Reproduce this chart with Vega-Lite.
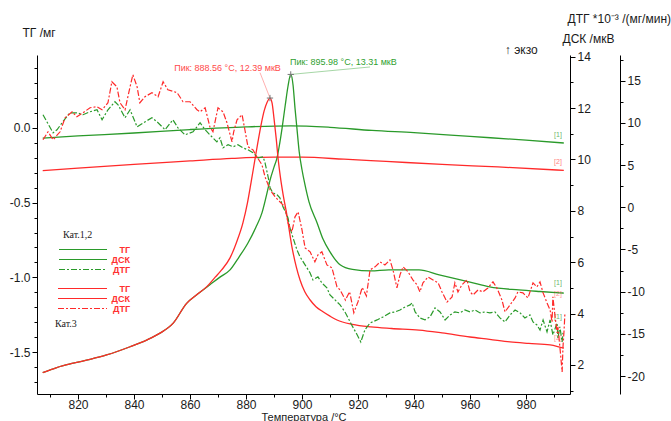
{
 "$schema": "https://vega.github.io/schema/vega-lite/v6.json",
 "width": 533, "height": 339,
 "autosize": "none",
 "padding": {"left": 37, "top": 55, "right": 101, "bottom": 27},
 "config": {
  "view": {"stroke": null},
  "font": "Liberation Sans",
  "axis": {"grid": false, "domainColor": "#000", "tickColor": "#000", "labelColor": "#1a1a1a", "titleColor": "#1a1a1a", "labelFont": "Liberation Sans", "titleFont": "Liberation Sans", "labelFontSize": 12, "titleFontSize": 12, "titleFontWeight": "normal", "labelPadding": 2, "labelOverlap": false}
 },
 "datasets": {
  "tg": [
   {"T":807.4,"v":-0.069,"s":"g","k":"ТГ"},{"T":820,"v":-0.055,"s":"g","k":"ТГ"},{"T":840,"v":-0.035,"s":"g","k":"ТГ"},{"T":860,"v":-0.012,"s":"g","k":"ТГ"},{"T":880,"v":0.006,"s":"g","k":"ТГ"},{"T":896,"v":0.013,"s":"g","k":"ТГ"},{"T":910,"v":0.003,"s":"g","k":"ТГ"},{"T":925,"v":-0.018,"s":"g","k":"ТГ"},{"T":940,"v":-0.033,"s":"g","k":"ТГ"},{"T":960,"v":-0.058,"s":"g","k":"ТГ"},{"T":980,"v":-0.083,"s":"g","k":"ТГ"},{"T":993.5,"v":-0.102,"s":"g","k":"ТГ"},
   {"T":807.4,"v":-0.287,"s":"r","k3":"ТГ 3"},{"T":820,"v":-0.27,"s":"r","k3":"ТГ 3"},{"T":840,"v":-0.245,"s":"r","k3":"ТГ 3"},{"T":860,"v":-0.222,"s":"r","k3":"ТГ 3"},{"T":875,"v":-0.205,"s":"r","k3":"ТГ 3"},{"T":890,"v":-0.196,"s":"r","k3":"ТГ 3"},{"T":900,"v":-0.197,"s":"r","k3":"ТГ 3"},{"T":915,"v":-0.21,"s":"r","k3":"ТГ 3"},{"T":930,"v":-0.225,"s":"r","k3":"ТГ 3"},{"T":950,"v":-0.245,"s":"r","k3":"ТГ 3"},{"T":970,"v":-0.262,"s":"r","k3":"ТГ 3"},{"T":993.5,"v":-0.285,"s":"r","k3":"ТГ 3"}
  ],
  "tglab": [
   {"T":991.4,"v":-0.05,"lab":"[1]","s":"g"},
   {"T":991.4,"v":-0.228,"lab":"[2]","s":"r"}
  ],
  "dsclab": [
   {"T":991.4,"v":5.2,"lab":"[1]","s":"g"},
   {"T":991.4,"v":4.75,"lab":"[2]","s":"r"},
   {"T":991.4,"v":3.85,"lab":"[1]","s":"g"},
   {"T":991.4,"v":3.05,"lab":"[2]","s":"r"}
  ],
  "dsc": [
   {"T":807.4,"v":1.70,"s":"g","k":"ДСК"},{"T":812.4,"v":1.90,"s":"g","k":"ДСК"},{"T":818.3,"v":2.07,"s":"g","k":"ДСК"},{"T":824.3,"v":2.22,"s":"g","k":"ДСК"},{"T":830.2,"v":2.39,"s":"g","k":"ДСК"},{"T":838.6,"v":2.71,"s":"g","k":"ДСК"},{"T":844.5,"v":2.97,"s":"g","k":"ДСК"},{"T":849.3,"v":3.24,"s":"g","k":"ДСК"},{"T":854,"v":3.63,"s":"g","k":"ДСК"},{"T":858.8,"v":4.40,"s":"g","k":"ДСК"},{"T":862.4,"v":4.73,"s":"g","k":"ДСК"},{"T":867.1,"v":5.12,"s":"g","k":"ДСК"},{"T":870.7,"v":5.42,"s":"g","k":"ДСК"},{"T":874.3,"v":5.70,"s":"g","k":"ДСК"},{"T":877.5,"v":6.2,"s":"g","k":"ДСК"},{"T":880.7,"v":6.75,"s":"g","k":"ДСК"},{"T":883.5,"v":7.35,"s":"g","k":"ДСК"},{"T":885.7,"v":7.92,"s":"g","k":"ДСК"},{"T":887.3,"v":8.6,"s":"g","k":"ДСК"},{"T":888.6,"v":9.2,"s":"g","k":"ДСК"},{"T":890,"v":9.7,"s":"g","k":"ДСК"},{"T":891.1,"v":10.07,"s":"g","k":"ДСК"},{"T":892,"v":10.6,"s":"g","k":"ДСК"},{"T":892.9,"v":11.23,"s":"g","k":"ДСК"},{"T":894,"v":12.1,"s":"g","k":"ДСК"},{"T":895,"v":12.85,"s":"g","k":"ДСК"},{"T":895.98,"v":13.31,"s":"g","k":"ДСК"},{"T":896.8,"v":12.9,"s":"g","k":"ДСК"},{"T":897.5,"v":12.0,"s":"g","k":"ДСК"},{"T":898.2,"v":11.2,"s":"g","k":"ДСК"},{"T":899,"v":10.3,"s":"g","k":"ДСК"},{"T":900,"v":9.6,"s":"g","k":"ДСК"},{"T":901,"v":9.05,"s":"g","k":"ДСК"},{"T":902.5,"v":8.35,"s":"g","k":"ДСК"},{"T":905.4,"v":7.53,"s":"g","k":"ДСК"},{"T":907.5,"v":6.9,"s":"g","k":"ДСК"},{"T":910,"v":6.40,"s":"g","k":"ДСК"},{"T":913.6,"v":5.9,"s":"g","k":"ДСК"},{"T":918,"v":5.72,"s":"g","k":"ДСК"},{"T":924.6,"v":5.66,"s":"g","k":"ДСК"},{"T":931,"v":5.70,"s":"g","k":"ДСК"},{"T":941.8,"v":5.70,"s":"g","k":"ДСК"},{"T":949,"v":5.51,"s":"g","k":"ДСК"},{"T":960,"v":5.23,"s":"g","k":"ДСК"},{"T":967,"v":5.04,"s":"g","k":"ДСК"},{"T":977.5,"v":4.92,"s":"g","k":"ДСК"},{"T":985,"v":4.86,"s":"g","k":"ДСК"},{"T":992,"v":4.81,"s":"g","k":"ДСК"},{"T":993.5,"v":4.80,"s":"g","k":"ДСК"},
   {"T":807.4,"v":1.70,"s":"r","k3":"ДСК 3"},{"T":812.4,"v":1.90,"s":"r","k3":"ДСК 3"},{"T":818.3,"v":2.07,"s":"r","k3":"ДСК 3"},{"T":824.3,"v":2.22,"s":"r","k3":"ДСК 3"},{"T":830.2,"v":2.39,"s":"r","k3":"ДСК 3"},{"T":838.6,"v":2.71,"s":"r","k3":"ДСК 3"},{"T":844.5,"v":2.97,"s":"r","k3":"ДСК 3"},{"T":849.3,"v":3.24,"s":"r","k3":"ДСК 3"},{"T":854,"v":3.63,"s":"r","k3":"ДСК 3"},{"T":858.8,"v":4.40,"s":"r","k3":"ДСК 3"},{"T":862.4,"v":4.73,"s":"r","k3":"ДСК 3"},{"T":866,"v":5.05,"s":"r","k3":"ДСК 3"},{"T":869,"v":5.42,"s":"r","k3":"ДСК 3"},{"T":871.3,"v":5.70,"s":"r","k3":"ДСК 3"},{"T":874.3,"v":6.17,"s":"r","k3":"ДСК 3"},{"T":876.7,"v":6.8,"s":"r","k3":"ДСК 3"},{"T":878.9,"v":7.53,"s":"r","k3":"ДСК 3"},{"T":880.5,"v":8.3,"s":"r","k3":"ДСК 3"},{"T":881.8,"v":9.1,"s":"r","k3":"ДСК 3"},{"T":883.2,"v":10.0,"s":"r","k3":"ДСК 3"},{"T":884.3,"v":10.7,"s":"r","k3":"ДСК 3"},{"T":885.3,"v":11.3,"s":"r","k3":"ДСК 3"},{"T":886.5,"v":11.9,"s":"r","k3":"ДСК 3"},{"T":887.5,"v":12.22,"s":"r","k3":"ДСК 3"},{"T":888.56,"v":12.39,"s":"r","k3":"ДСК 3"},{"T":889.3,"v":12.2,"s":"r","k3":"ДСК 3"},{"T":890.0,"v":11.6,"s":"r","k3":"ДСК 3"},{"T":890.8,"v":10.8,"s":"r","k3":"ДСК 3"},{"T":891.5,"v":10.0,"s":"r","k3":"ДСК 3"},{"T":892.3,"v":9.3,"s":"r","k3":"ДСК 3"},{"T":893.3,"v":8.6,"s":"r","k3":"ДСК 3"},{"T":894.5,"v":7.9,"s":"r","k3":"ДСК 3"},{"T":896.4,"v":6.6,"s":"r","k3":"ДСК 3"},{"T":898,"v":5.8,"s":"r","k3":"ДСК 3"},{"T":899.3,"v":5.31,"s":"r","k3":"ДСК 3"},{"T":901,"v":4.85,"s":"r","k3":"ДСК 3"},{"T":902.9,"v":4.53,"s":"r","k3":"ДСК 3"},{"T":905,"v":4.27,"s":"r","k3":"ДСК 3"},{"T":907.5,"v":4.07,"s":"r","k3":"ДСК 3"},{"T":910,"v":3.9,"s":"r","k3":"ДСК 3"},{"T":912.5,"v":3.75,"s":"r","k3":"ДСК 3"},{"T":918,"v":3.58,"s":"r","k3":"ДСК 3"},{"T":924.6,"v":3.48,"s":"r","k3":"ДСК 3"},{"T":932,"v":3.42,"s":"r","k3":"ДСК 3"},{"T":941.8,"v":3.36,"s":"r","k3":"ДСК 3"},{"T":950,"v":3.25,"s":"r","k3":"ДСК 3"},{"T":960,"v":3.09,"s":"r","k3":"ДСК 3"},{"T":967,"v":3.0,"s":"r","k3":"ДСК 3"},{"T":974.3,"v":2.9,"s":"r","k3":"ДСК 3"},{"T":981,"v":2.84,"s":"r","k3":"ДСК 3"},{"T":988.6,"v":2.78,"s":"r","k3":"ДСК 3"},{"T":992,"v":2.70,"s":"r","k3":"ДСК 3"},{"T":993.5,"v":2.66,"s":"r","k3":"ДСК 3"}
  ],
  "peaks": [
   {"T":888.56,"v":12.39,"lx":885.0,"ly":13.38,"s":"r"},
   {"T":895.98,"v":13.31,"lx":924.3,"ly":13.6,"s":"g"}
  ],
  "peaklab": [
   {"T":873.4,"v":13.56,"lab":"Пик: 888.56 °C, 12.39 мкВ","s":"r"},
   {"T":914.8,"v":13.78,"lab":"Пик: 895.98 °C, 13.31 мкВ","s":"g"}
  ],
  "exo": [{"T":978.3,"v":14.27,"lab":"↑ экзо"}],
  "dtg": [
   {"T":807.5,"v":10.97,"s":"g","k":"ДТГ"},{"T":811.1,"v":8.83,"s":"g","k":"ДТГ"},{"T":812.5,"v":9.19,"s":"g","k":"ДТГ"},{"T":814.6,"v":10.14,"s":"g","k":"ДТГ"},{"T":817.1,"v":11.2,"s":"g","k":"ДТГ"},{"T":819.6,"v":11.2,"s":"g","k":"ДТГ"},{"T":821.8,"v":10.97,"s":"g","k":"ДТГ"},{"T":824.3,"v":11.32,"s":"g","k":"ДТГ"},{"T":826.8,"v":11.56,"s":"g","k":"ДТГ"},{"T":828.6,"v":10.37,"s":"g","k":"ДТГ"},{"T":830.7,"v":11.56,"s":"g","k":"ДТГ"},{"T":833.2,"v":12.51,"s":"g","k":"ДТГ"},{"T":834.3,"v":12.15,"s":"g","k":"ДТГ"},{"T":836.8,"v":10.61,"s":"g","k":"ДТГ"},{"T":838.6,"v":11.56,"s":"g","k":"ДТГ"},{"T":841.1,"v":9.54,"s":"g","k":"ДТГ"},{"T":844.0,"v":10.14,"s":"g","k":"ДТГ"},{"T":846.4,"v":10.61,"s":"g","k":"ДТГ"},{"T":848.6,"v":10.02,"s":"g","k":"ДТГ"},{"T":851.1,"v":9.19,"s":"g","k":"ДТГ"},{"T":853.9,"v":10.37,"s":"g","k":"ДТГ"},{"T":855.7,"v":9.42,"s":"g","k":"ДТГ"},{"T":858.2,"v":8.59,"s":"g","k":"ДТГ"},{"T":861.1,"v":8.95,"s":"g","k":"ДТГ"},{"T":863.6,"v":10.02,"s":"g","k":"ДТГ"},{"T":865.4,"v":9.19,"s":"g","k":"ДТГ"},{"T":867.1,"v":8.59,"s":"g","k":"ДТГ"},{"T":869.6,"v":7.76,"s":"g","k":"ДТГ"},{"T":870.7,"v":8.24,"s":"g","k":"ДТГ"},{"T":871.8,"v":7.05,"s":"g","k":"ДТГ"},{"T":873.6,"v":7.41,"s":"g","k":"ДТГ"},{"T":875.4,"v":7.17,"s":"g","k":"ДТГ"},{"T":877.1,"v":7.41,"s":"g","k":"ДТГ"},{"T":878.9,"v":7.05,"s":"g","k":"ДТГ"},{"T":880.7,"v":6.81,"s":"g","k":"ДТГ"},{"T":882.5,"v":6.46,"s":"g","k":"ДТГ"},{"T":884.3,"v":5.87,"s":"g","k":"ДТГ"},{"T":886.1,"v":5.98,"s":"g","k":"ДТГ"},{"T":886.8,"v":5.27,"s":"g","k":"ДТГ"},{"T":887.9,"v":3.61,"s":"g","k":"ДТГ"},{"T":888.6,"v":2.31,"s":"g","k":"ДТГ"},{"T":889.6,"v":1.71,"s":"g","k":"ДТГ"},{"T":891.1,"v":1.48,"s":"g","k":"ДТГ"},{"T":892.1,"v":1.12,"s":"g","k":"ДТГ"},{"T":893.2,"v":0.05,"s":"g","k":"ДТГ"},{"T":894.6,"v":-0.9,"s":"g","k":"ДТГ"},{"T":895.0,"v":-1.25,"s":"g","k":"ДТГ"},{"T":895.7,"v":-2.44,"s":"g","k":"ДТГ"},{"T":896.8,"v":-3.62,"s":"g","k":"ДТГ"},{"T":898.2,"v":-5.05,"s":"g","k":"ДТГ"},{"T":899.3,"v":-5.88,"s":"g","k":"ДТГ"},{"T":901.1,"v":-6.83,"s":"g","k":"ДТГ"},{"T":902.9,"v":-7.78,"s":"g","k":"ДТГ"},{"T":903.9,"v":-8.61,"s":"g","k":"ДТГ"},{"T":905.7,"v":-8.25,"s":"g","k":"ДТГ"},{"T":907.1,"v":-8.96,"s":"g","k":"ДТГ"},{"T":908.9,"v":-9.56,"s":"g","k":"ДТГ"},{"T":910.0,"v":-10.39,"s":"g","k":"ДТГ"},{"T":911.8,"v":-10.98,"s":"g","k":"ДТГ"},{"T":913.6,"v":-11.57,"s":"g","k":"ДТГ"},{"T":915.5,"v":-12.5,"s":"g","k":"ДТГ"},{"T":917.5,"v":-13.8,"s":"g","k":"ДТГ"},{"T":919.5,"v":-15.0,"s":"g","k":"ДТГ"},{"T":921.0,"v":-15.96,"s":"g","k":"ДТГ"},{"T":922.5,"v":-14.5,"s":"g","k":"ДТГ"},{"T":924.3,"v":-13.71,"s":"g","k":"ДТГ"},{"T":926.8,"v":-13.35,"s":"g","k":"ДТГ"},{"T":928.9,"v":-13.0,"s":"g","k":"ДТГ"},{"T":931.4,"v":-12.52,"s":"g","k":"ДТГ"},{"T":933.2,"v":-12.4,"s":"g","k":"ДТГ"},{"T":935.0,"v":-12.17,"s":"g","k":"ДТГ"},{"T":936.8,"v":-11.81,"s":"g","k":"ДТГ"},{"T":938.6,"v":-11.57,"s":"g","k":"ДТГ"},{"T":939.3,"v":-11.33,"s":"g","k":"ДТГ"},{"T":940.4,"v":-12.4,"s":"g","k":"ДТГ"},{"T":942.1,"v":-13.11,"s":"g","k":"ДТГ"},{"T":943.9,"v":-13.35,"s":"g","k":"ДТГ"},{"T":945.7,"v":-13.0,"s":"g","k":"ДТГ"},{"T":947.5,"v":-11.93,"s":"g","k":"ДТГ"},{"T":949.3,"v":-12.4,"s":"g","k":"ДТГ"},{"T":951.1,"v":-13.35,"s":"g","k":"ДТГ"},{"T":952.9,"v":-12.76,"s":"g","k":"ДТГ"},{"T":954.6,"v":-12.4,"s":"g","k":"ДТГ"},{"T":956.4,"v":-12.52,"s":"g","k":"ДТГ"},{"T":958.2,"v":-12.17,"s":"g","k":"ДТГ"},{"T":960.0,"v":-12.4,"s":"g","k":"ДТГ"},{"T":961.8,"v":-12.17,"s":"g","k":"ДТГ"},{"T":963.6,"v":-12.52,"s":"g","k":"ДТГ"},{"T":965.4,"v":-12.4,"s":"g","k":"ДТГ"},{"T":967.1,"v":-12.52,"s":"g","k":"ДТГ"},{"T":968.9,"v":-12.4,"s":"g","k":"ДТГ"},{"T":970.7,"v":-13.11,"s":"g","k":"ДТГ"},{"T":972.5,"v":-13.59,"s":"g","k":"ДТГ"},{"T":974.3,"v":-12.76,"s":"g","k":"ДТГ"},{"T":976.1,"v":-12.17,"s":"g","k":"ДТГ"},{"T":977.9,"v":-12.52,"s":"g","k":"ДТГ"},{"T":979.6,"v":-13.11,"s":"g","k":"ДТГ"},{"T":981.4,"v":-12.76,"s":"g","k":"ДТГ"},{"T":982.5,"v":-13.59,"s":"g","k":"ДТГ"},{"T":983.9,"v":-13.94,"s":"g","k":"ДТГ"},{"T":985.0,"v":-14.54,"s":"g","k":"ДТГ"},{"T":986.1,"v":-13.35,"s":"g","k":"ДТГ"},{"T":987.5,"v":-14.77,"s":"g","k":"ДТГ"},{"T":988.6,"v":-13.35,"s":"g","k":"ДТГ"},{"T":989.6,"v":-15.13,"s":"g","k":"ДТГ"},{"T":991.1,"v":-13.71,"s":"g","k":"ДТГ"},{"T":991.4,"v":-15.49,"s":"g","k":"ДТГ"},{"T":992.1,"v":-14.18,"s":"g","k":"ДТГ"},{"T":992.9,"v":-15.96,"s":"g","k":"ДТГ"},{"T":993.2,"v":-14.89,"s":"g","k":"ДТГ"},
   {"T":807.5,"v":8.0,"s":"r","k3":"ДТГ 3"},{"T":809.3,"v":8.95,"s":"r","k3":"ДТГ 3"},{"T":811.1,"v":8.0,"s":"r","k3":"ДТГ 3"},{"T":813.6,"v":8.95,"s":"r","k3":"ДТГ 3"},{"T":815.4,"v":10.61,"s":"r","k3":"ДТГ 3"},{"T":817.9,"v":11.32,"s":"r","k3":"ДТГ 3"},{"T":819.6,"v":10.73,"s":"r","k3":"ДТГ 3"},{"T":821.8,"v":11.2,"s":"r","k3":"ДТГ 3"},{"T":824.3,"v":11.8,"s":"r","k3":"ДТГ 3"},{"T":826.8,"v":11.92,"s":"r","k3":"ДТГ 3"},{"T":828.6,"v":11.56,"s":"r","k3":"ДТГ 3"},{"T":830.7,"v":12.39,"s":"r","k3":"ДТГ 3"},{"T":832.1,"v":14.88,"s":"r","k3":"ДТГ 3"},{"T":833.9,"v":14.29,"s":"r","k3":"ДТГ 3"},{"T":835.0,"v":12.39,"s":"r","k3":"ДТГ 3"},{"T":836.8,"v":11.56,"s":"r","k3":"ДТГ 3"},{"T":838.6,"v":14.29,"s":"r","k3":"ДТГ 3"},{"T":839.6,"v":15.71,"s":"r","k3":"ДТГ 3"},{"T":841.1,"v":14.29,"s":"r","k3":"ДТГ 3"},{"T":842.1,"v":12.39,"s":"r","k3":"ДТГ 3"},{"T":843.9,"v":13.1,"s":"r","k3":"ДТГ 3"},{"T":846.4,"v":13.58,"s":"r","k3":"ДТГ 3"},{"T":848.6,"v":13.1,"s":"r","k3":"ДТГ 3"},{"T":850.4,"v":14.88,"s":"r","k3":"ДТГ 3"},{"T":852.1,"v":13.93,"s":"r","k3":"ДТГ 3"},{"T":855.4,"v":13.58,"s":"r","k3":"ДТГ 3"},{"T":857.5,"v":12.51,"s":"r","k3":"ДТГ 3"},{"T":860.0,"v":12.51,"s":"r","k3":"ДТГ 3"},{"T":862.5,"v":11.56,"s":"r","k3":"ДТГ 3"},{"T":863.6,"v":11.32,"s":"r","k3":"ДТГ 3"},{"T":865.4,"v":11.8,"s":"r","k3":"ДТГ 3"},{"T":867.1,"v":9.54,"s":"r","k3":"ДТГ 3"},{"T":868.2,"v":8.95,"s":"r","k3":"ДТГ 3"},{"T":870.0,"v":11.8,"s":"r","k3":"ДТГ 3"},{"T":871.8,"v":11.32,"s":"r","k3":"ДТГ 3"},{"T":873.2,"v":10.02,"s":"r","k3":"ДТГ 3"},{"T":875.0,"v":7.76,"s":"r","k3":"ДТГ 3"},{"T":875.6,"v":8.95,"s":"r","k3":"ДТГ 3"},{"T":876.8,"v":10.37,"s":"r","k3":"ДТГ 3"},{"T":878.6,"v":10.97,"s":"r","k3":"ДТГ 3"},{"T":879.6,"v":9.19,"s":"r","k3":"ДТГ 3"},{"T":880.7,"v":7.17,"s":"r","k3":"ДТГ 3"},{"T":882.5,"v":6.81,"s":"r","k3":"ДТГ 3"},{"T":883.9,"v":5.98,"s":"r","k3":"ДТГ 3"},{"T":885.7,"v":5.04,"s":"r","k3":"ДТГ 3"},{"T":886.8,"v":3.61,"s":"r","k3":"ДТГ 3"},{"T":888.6,"v":2.07,"s":"r","k3":"ДТГ 3"},{"T":890.4,"v":1.24,"s":"r","k3":"ДТГ 3"},{"T":892.1,"v":0.65,"s":"r","k3":"ДТГ 3"},{"T":893.9,"v":0.05,"s":"r","k3":"ДТГ 3"},{"T":895.0,"v":-1.84,"s":"r","k3":"ДТГ 3"},{"T":896.4,"v":-2.91,"s":"r","k3":"ДТГ 3"},{"T":897.5,"v":-1.13,"s":"r","k3":"ДТГ 3"},{"T":898.6,"v":-0.54,"s":"r","k3":"ДТГ 3"},{"T":900.0,"v":-2.67,"s":"r","k3":"ДТГ 3"},{"T":901.1,"v":-4.81,"s":"r","k3":"ДТГ 3"},{"T":902.9,"v":-5.28,"s":"r","k3":"ДТГ 3"},{"T":904.6,"v":-6.47,"s":"r","k3":"ДТГ 3"},{"T":905.7,"v":-5.64,"s":"r","k3":"ДТГ 3"},{"T":907.1,"v":-5.28,"s":"r","k3":"ДТГ 3"},{"T":908.9,"v":-6.83,"s":"r","k3":"ДТГ 3"},{"T":910.7,"v":-7.18,"s":"r","k3":"ДТГ 3"},{"T":912.5,"v":-9.44,"s":"r","k3":"ДТГ 3"},{"T":913.6,"v":-9.79,"s":"r","k3":"ДТГ 3"},{"T":915.5,"v":-11.0,"s":"r","k3":"ДТГ 3"},{"T":917.0,"v":-10.0,"s":"r","k3":"ДТГ 3"},{"T":918.5,"v":-12.5,"s":"r","k3":"ДТГ 3"},{"T":920.0,"v":-11.2,"s":"r","k3":"ДТГ 3"},{"T":921.5,"v":-9.5,"s":"r","k3":"ДТГ 3"},{"T":923.0,"v":-10.5,"s":"r","k3":"ДТГ 3"},{"T":924.3,"v":-7.42,"s":"r","k3":"ДТГ 3"},{"T":926.1,"v":-7.06,"s":"r","k3":"ДТГ 3"},{"T":927.9,"v":-6.47,"s":"r","k3":"ДТГ 3"},{"T":929.6,"v":-6.83,"s":"r","k3":"ДТГ 3"},{"T":931.4,"v":-6.24,"s":"r","k3":"ДТГ 3"},{"T":932.5,"v":-7.42,"s":"r","k3":"ДТГ 3"},{"T":933.9,"v":-9.56,"s":"r","k3":"ДТГ 3"},{"T":935.0,"v":-8.01,"s":"r","k3":"ДТГ 3"},{"T":936.1,"v":-7.06,"s":"r","k3":"ДТГ 3"},{"T":937.9,"v":-7.66,"s":"r","k3":"ДТГ 3"},{"T":939.6,"v":-8.61,"s":"r","k3":"ДТГ 3"},{"T":941.1,"v":-9.2,"s":"r","k3":"ДТГ 3"},{"T":942.1,"v":-10.03,"s":"r","k3":"ДТГ 3"},{"T":943.2,"v":-8.96,"s":"r","k3":"ДТГ 3"},{"T":945.0,"v":-8.25,"s":"r","k3":"ДТГ 3"},{"T":946.8,"v":-8.61,"s":"r","k3":"ДТГ 3"},{"T":948.6,"v":-8.96,"s":"r","k3":"ДТГ 3"},{"T":950.0,"v":-10.03,"s":"r","k3":"ДТГ 3"},{"T":951.8,"v":-11.22,"s":"r","k3":"ДТГ 3"},{"T":953.6,"v":-10.62,"s":"r","k3":"ДТГ 3"},{"T":954.6,"v":-8.96,"s":"r","k3":"ДТГ 3"},{"T":955.7,"v":-10.03,"s":"r","k3":"ДТГ 3"},{"T":957.1,"v":-9.2,"s":"r","k3":"ДТГ 3"},{"T":958.9,"v":-8.61,"s":"r","k3":"ДТГ 3"},{"T":960.0,"v":-10.03,"s":"r","k3":"ДТГ 3"},{"T":961.1,"v":-10.39,"s":"r","k3":"ДТГ 3"},{"T":962.9,"v":-9.79,"s":"r","k3":"ДТГ 3"},{"T":964.6,"v":-10.03,"s":"r","k3":"ДТГ 3"},{"T":966.4,"v":-9.56,"s":"r","k3":"ДТГ 3"},{"T":968.2,"v":-8.84,"s":"r","k3":"ДТГ 3"},{"T":969.6,"v":-9.56,"s":"r","k3":"ДТГ 3"},{"T":971.4,"v":-10.98,"s":"r","k3":"ДТГ 3"},{"T":972.5,"v":-12.4,"s":"r","k3":"ДТГ 3"},{"T":974.3,"v":-11.57,"s":"r","k3":"ДТГ 3"},{"T":976.1,"v":-10.74,"s":"r","k3":"ДТГ 3"},{"T":977.1,"v":-10.03,"s":"r","k3":"ДТГ 3"},{"T":978.9,"v":-10.15,"s":"r","k3":"ДТГ 3"},{"T":980.7,"v":-10.74,"s":"r","k3":"ДТГ 3"},{"T":982.5,"v":-8.96,"s":"r","k3":"ДТГ 3"},{"T":983.9,"v":-9.44,"s":"r","k3":"ДТГ 3"},{"T":985.0,"v":-8.84,"s":"r","k3":"ДТГ 3"},{"T":986.1,"v":-10.15,"s":"r","k3":"ДТГ 3"},{"T":987.5,"v":-11.33,"s":"r","k3":"ДТГ 3"},{"T":988.6,"v":-12.17,"s":"r","k3":"ДТГ 3"},{"T":989.3,"v":-13.59,"s":"r","k3":"ДТГ 3"},{"T":989.6,"v":-10.62,"s":"r","k3":"ДТГ 3"},{"T":990.4,"v":-13.0,"s":"r","k3":"ДТГ 3"},{"T":991.1,"v":-14.89,"s":"r","k3":"ДТГ 3"},{"T":991.4,"v":-14.18,"s":"r","k3":"ДТГ 3"},{"T":992.1,"v":-16.55,"s":"r","k3":"ДТГ 3"},{"T":992.9,"v":-19.52,"s":"r","k3":"ДТГ 3"},{"T":993.2,"v":-16.55,"s":"r","k3":"ДТГ 3"},{"T":993.6,"v":-14.54,"s":"r","k3":"ДТГ 3"},{"T":993.9,"v":-12.52,"s":"r","k3":"ДТГ 3"}
  ]
 },
 "encoding": {
  "x": {"field": "T", "type": "quantitative", "scale": {"domain": [805.36, 995.71], "nice": false, "zero": false},
   "axis": {"title": "Температура /°C", "values": [810,820,830,840,850,860,870,880,890,900,910,920,930,940,950,960,970,980,990],
    "labelExpr": "datum.value % 20 === 0 ? format(datum.value, 'd') : ''",
    "tickSize": {"condition": {"test": "datum.value % 20 === 0", "value": 5}, "value": 3},
    "labelPadding": 0, "titlePadding": 1, "titleFontSize": 11}}
 },
 "layer": [
  {
   "encoding": {"y": {"field": "v", "type": "quantitative", "scale": {"domain": [-1.779, 0.486], "nice": false, "zero": false},
    "axis": {"orient": "left", "title": "ТГ /мг", "titleAngle": 0, "titleAlign": "left", "titleBaseline": "middle", "titleX": -15, "titleY": -23,
     "values": [0.4,0.3,0.2,0.1,0,-0.1,-0.2,-0.3,-0.4,-0.5,-0.6,-0.7,-0.8,-0.9,-1.0,-1.1,-1.2,-1.3,-1.4,-1.5,-1.6,-1.7],
     "labelExpr": "abs(datum.value*2 - round(datum.value*2)) < 0.001 ? replace(format(datum.value, '.1f'), '−', '-') : ''",
     "tickSize": {"condition": {"test": "abs(datum.value*2 - round(datum.value*2)) < 0.001", "value": 5}, "value": 3}}}},
   "layer": [
    {"data": {"name": "tg"}, "transform": [{"filter": "datum.s === 'g'"}],
     "mark": {"type": "line", "strokeWidth": 1.3, "interpolate": "monotone"},
     "encoding": {"color": {"field": "k", "type": "nominal", "scale": {"domain": ["ТГ","ДСК","ДТГ"], "range": ["#2a9a2a","#2a9a2a","#2a9a2a"]},
      "legend": {"title": "Кат.1,2", "orient": "none", "legendX": 26, "legendY": 175, "padding": 0, "symbolType": "M-2.83,0L13.17,0", "symbolSize": 36, "symbolStrokeWidth": 1,
       "labelFont": "Liberation Sans", "labelFontSize": 9, "labelFontWeight": "bold", "labelColor": "#ff3030", "labelAlign": "right", "labelOffset": 58,
       "titleFont": "Liberation Serif", "titleFontSize": 10, "titleFontWeight": "normal", "titleColor": "#222", "rowPadding": 0, "titlePadding": 5,
       "encode": {"symbols": {"update": {"strokeDash": {"signal": "datum.value === 'ДТГ' ? [6,2,2,2] : [1,0]"}}}}}}}},
    {"data": {"name": "tg"}, "transform": [{"filter": "datum.s === 'r'"}],
     "mark": {"type": "line", "strokeWidth": 1.3, "interpolate": "monotone"},
     "encoding": {"stroke": {"field": "k3", "type": "nominal", "scale": {"domain": ["ТГ 3","ДСК 3","ДТГ 3"], "range": ["#ff2a2a","#ff2a2a","#ff2a2a"]},
      "legend": {"title": "Кат.3", "titleOrient": "bottom", "orient": "none", "legendX": 18, "legendY": 229, "padding": 0, "symbolType": "M-0.5,0L15.83,0", "symbolSize": 36, "symbolStrokeWidth": 1,
       "labelExpr": "replace(datum.label, ' 3', '')",
       "labelFont": "Liberation Sans", "labelFontSize": 9, "labelFontWeight": "bold", "labelColor": "#ff3030", "labelAlign": "right", "labelOffset": 66,
       "titleFont": "Liberation Serif", "titleFontSize": 10, "titleFontWeight": "normal", "titleColor": "#222", "rowPadding": 0, "titlePadding": 5,
       "encode": {"symbols": {"update": {"strokeDash": {"signal": "datum.value === 'ДТГ 3' ? [6,2,2,2] : [1,0]"}}}}}}}},
    {"data": {"name": "tglab"}, "transform": [{"filter": "datum.s === 'g'"}],
     "mark": {"type": "text", "fontSize": 7, "color": "#2a9a2a", "opacity": 0.7},
     "encoding": {"text": {"field": "lab"}}},
    {"data": {"name": "tglab"}, "transform": [{"filter": "datum.s === 'r'"}],
     "mark": {"type": "text", "fontSize": 7, "color": "#ff2a2a", "opacity": 0.6},
     "encoding": {"text": {"field": "lab"}}}
   ]
  },
  {
   "encoding": {"y": {"field": "v", "type": "quantitative", "scale": {"domain": [0.871, 14.066], "nice": false, "zero": false},
    "axis": {"orient": "right", "title": "ДСК /мкВ", "titleAngle": 0, "titleAlign": "left", "titleBaseline": "middle", "titleX": -8, "titleY": -17,
     "values": [1,2,3,4,5,6,7,8,9,10,11,12,13,14],
     "labelExpr": "datum.value % 2 === 0 ? format(datum.value, 'd') : ''",
     "tickSize": {"condition": {"test": "datum.value % 2 === 0", "value": 5}, "value": 3}}}},
   "layer": [
    {"data": {"name": "dsc"}, "transform": [{"filter": "datum.s === 'g'"}],
     "mark": {"type": "line", "strokeWidth": 1.3, "interpolate": "monotone"},
     "encoding": {"color": {"field": "k", "type": "nominal", "scale": {"domain": ["ТГ","ДСК","ДТГ"], "range": ["#2a9a2a","#2a9a2a","#2a9a2a"]}, "legend": null}}},
    {"data": {"name": "dsc"}, "transform": [{"filter": "datum.s === 'r'"}],
     "mark": {"type": "line", "strokeWidth": 1.3, "interpolate": "monotone"},
     "encoding": {"stroke": {"field": "k3", "type": "nominal", "scale": {"domain": ["ТГ 3","ДСК 3","ДТГ 3"], "range": ["#ff2a2a","#ff2a2a","#ff2a2a"]}, "legend": null}}},
    {"data": {"name": "peaks"}, "transform": [{"filter": "datum.s === 'r'"}],
     "mark": {"type": "rule", "color": "#ff9a9a", "strokeWidth": 0.8},
     "encoding": {"x2": {"field": "lx"}, "y2": {"field": "ly"}}},
    {"data": {"name": "peaks"}, "transform": [{"filter": "datum.s === 'g'"}],
     "mark": {"type": "rule", "color": "#8fcc8f", "strokeWidth": 0.8},
     "encoding": {"x2": {"field": "lx"}, "y2": {"field": "ly"}}},
    {"data": {"name": "peaks"},
     "mark": {"type": "point", "shape": "M-1,0L1,0M0,-1L0,1", "size": 40, "color": "#777", "filled": false, "strokeWidth": 1, "opacity": 1}},
    {"data": {"name": "peaklab"}, "transform": [{"filter": "datum.s === 'r'"}],
     "mark": {"type": "text", "fontSize": 9, "color": "#ff4a4a"},
     "encoding": {"text": {"field": "lab"}}},
    {"data": {"name": "peaklab"}, "transform": [{"filter": "datum.s === 'g'"}],
     "mark": {"type": "text", "fontSize": 9, "color": "#2f9f2f"},
     "encoding": {"text": {"field": "lab"}}},
    {"data": {"name": "exo"},
     "mark": {"type": "text", "fontSize": 12, "color": "#222"},
     "encoding": {"text": {"field": "lab"}}},
    {"data": {"name": "dsclab"}, "transform": [{"filter": "datum.s === 'g'"}],
     "mark": {"type": "text", "fontSize": 7, "color": "#2a9a2a", "opacity": 0.7},
     "encoding": {"text": {"field": "lab"}}},
    {"data": {"name": "dsclab"}, "transform": [{"filter": "datum.s === 'r'"}],
     "mark": {"type": "text", "fontSize": 7, "color": "#ff2a2a", "opacity": 0.5},
     "encoding": {"text": {"field": "lab"}}}
   ]
  },
  {
   "encoding": {"y": {"field": "v", "type": "quantitative", "scale": {"domain": [-22.13, 18.05], "nice": false, "zero": false},
    "axis": {"orient": "right", "offset": 50, "title": "ДТГ *10⁻³ /(мг/мин)", "titleAngle": 0, "titleAlign": "left", "titleBaseline": "middle", "titleX": -53, "titleY": -37,
     "values": [17.5,15,12.5,10,7.5,5,2.5,0,-2.5,-5,-7.5,-10,-12.5,-15,-17.5,-20],
     "labelExpr": "datum.value % 5 === 0 ? replace(format(datum.value, 'd'), '−', '-') : ''",
     "tickSize": {"condition": {"test": "datum.value % 5 === 0", "value": 5}, "value": 3}}}},
   "layer": [
    {"data": {"name": "dtg"}, "transform": [{"filter": "datum.s === 'g'"}],
     "mark": {"type": "line", "strokeWidth": 1.2, "strokeDash": [6,2,2,2]},
     "encoding": {"color": {"field": "k", "type": "nominal", "scale": {"domain": ["ТГ","ДСК","ДТГ"], "range": ["#2a9a2a","#2a9a2a","#2a9a2a"]}, "legend": null}}},
    {"data": {"name": "dtg"}, "transform": [{"filter": "datum.s === 'r'"}],
     "mark": {"type": "line", "strokeWidth": 1.2, "strokeDash": [6,2,2,2]},
     "encoding": {"stroke": {"field": "k3", "type": "nominal", "scale": {"domain": ["ТГ 3","ДСК 3","ДТГ 3"], "range": ["#ff2a2a","#ff2a2a","#ff2a2a"]}, "legend": null}}}
   ]
  }
 ],
 "resolve": {"scale": {"y": "independent"}}
}
